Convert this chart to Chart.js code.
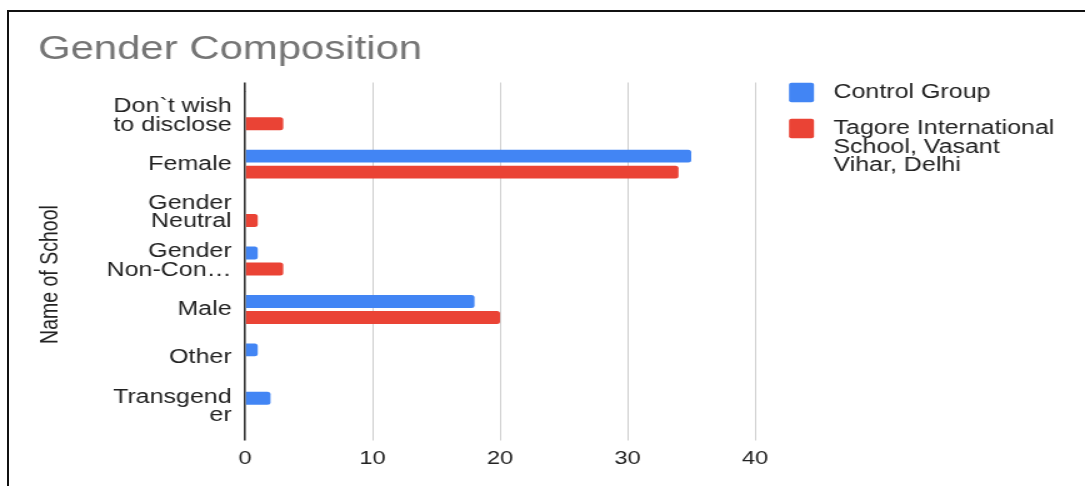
<!DOCTYPE html>
<html>
<head>
<meta charset="utf-8">
<title>Gender Composition</title>
<script src="https://cdn.jsdelivr.net/npm/chart.js@4.4.1/dist/chart.umd.min.js"></script>
<style>
  html, body { margin: 0; padding: 0; background: #fff; overflow: hidden; }
  #frame { position: absolute; left: 7px; top: 9.5px; right: 0; bottom: 0; border-top: 2px solid #111; border-left: 2px solid #111; }
  /* the source screenshot is stretched sideways, so draw narrow and scale */
  #wrap { position: absolute; left: 0; top: 0; width: 868px; height: 486px; transform: scaleX(1.25); transform-origin: 0 0; }
</style>
</head>
<body>
<div id="frame"></div>
<div id="wrap"><canvas id="chart"></canvas></div>
<script>
// categories, as wrapped on the axis
const categories = [['Don`t wish', 'to disclose'], 'Female', ['Gender', 'Neutral'], ['Gender', 'Non-Con…'], 'Male', 'Other', ['Transgend', 'er']];
// counts per series (null = no bar)
const controlGroup = [null, 35, null, 1, 18, 1, 2];
const tagoreSchool = [3, 34, 1, 3, 20, null, null];
const seriesNames = ['Control Group', 'Tagore International School, Vasant Vihar, Delhi'];
// legend text wrapped the way the original shows it
const legendLines = [['Control Group'], ['Tagore International', 'School, Vasant', 'Vihar, Delhi']];
const xTicks = [0, 10, 20, 30, 40];

Chart.defaults.font.family = "'Liberation Sans', Arial, sans-serif";

// zero line is dark, the rest light grey
const gridColor = c => (c.tick && c.tick.value === 0 ? '#333' : '#cfcfcf');
const gridWidth = c => (c.tick && c.tick.value === 0 ? 1.6 : 1);

new Chart(document.getElementById('chart'), {
  type: 'bar',
  data: {
    labels: categories,
    datasets: [
      { label: seriesNames[0], data: controlGroup, backgroundColor: '#4285F4', borderWidth: 0, borderRadius: 2.5 },
      { label: seriesNames[1], data: tagoreSchool, backgroundColor: '#EA4335', borderWidth: 0, borderRadius: 2.5 }
    ]
  },
  options: {
    indexAxis: 'y',
    responsive: true,
    maintainAspectRatio: false,
    animation: false,
    categoryPercentage: 0.66,
    barPercentage: 0.81,
    layout: { padding: { left: 30.4, right: 22.8, top: 0, bottom: 0 } },
    scales: {
      x: {
        type: 'linear',
        position: 'bottom',
        min: xTicks[0],
        max: xTicks[xTicks.length - 1],
        ticks: { stepSize: xTicks[1] - xTicks[0], padding: 7.2, color: '#222', font: { size: 19 } },
        grid: { color: gridColor, lineWidth: gridWidth, drawTicks: true, tickLength: 10 },
        border: { display: false },
        afterFit: s => { s.height = 55.5; }
      },
      // only here to carry the grid lines a little above the bars
      x2: {
        type: 'linear',
        position: 'top',
        min: xTicks[0],
        max: xTicks[xTicks.length - 1],
        ticks: { stepSize: xTicks[1] - xTicks[0], display: false },
        grid: { color: gridColor, lineWidth: gridWidth, drawOnChartArea: false, drawTicks: true, tickLength: 9 },
        border: { display: false },
        afterFit: s => { s.height = 9; }
      },
      y: {
        type: 'category',
        offset: true,
        grid: { display: false, drawTicks: false },
        border: { display: false },
        ticks: { padding: 10.7, color: '#222', autoSkip: false, font: { size: 20, lineHeight: 0.93 } },
        title: { display: true, text: 'Name of School     ', color: '#222', font: { size: 19.5, lineHeight: 1 }, padding: 0 },
        afterFit: s => { s.width = 165.6; }
      },
      // spacer between plot and legend
      y2: {
        type: 'linear',
        position: 'right',
        ticks: { display: false },
        grid: { display: false, drawTicks: false },
        border: { display: false },
        afterFit: s => { s.width = 11.2; }
      }
    },
    plugins: {
      title: {
        display: true,
        text: 'Gender Composition',
        align: 'start',
        color: '#757575',
        font: { size: 33.5, weight: 'normal' },
        padding: { top: 29.8, bottom: 12.5 }
      },
      legend: {
        position: 'right',
        align: 'start',
        maxWidth: 230,
        title: { display: true, text: '', font: { size: 12, lineHeight: 1.2 }, padding: { top: 0, bottom: 52 } },
        labels: {
          boxWidth: 20,
          boxHeight: 19.5,
          padding: 16,
          color: '#222',
          useBorderRadius: true,
          borderRadius: 2,
          font: { size: 20, lineHeight: 0.935 },
          generateLabels: chart => Chart.defaults.plugins.legend.labels.generateLabels(chart).map((item, i) => {
            const lines = legendLines[i].map(l => ' ' + l);
            return Object.assign(item, { text: lines.length === 1 ? lines[0] : lines });
          })
        }
      },
      tooltip: { enabled: false }
    }
  }
});
</script>
</body>
</html>
